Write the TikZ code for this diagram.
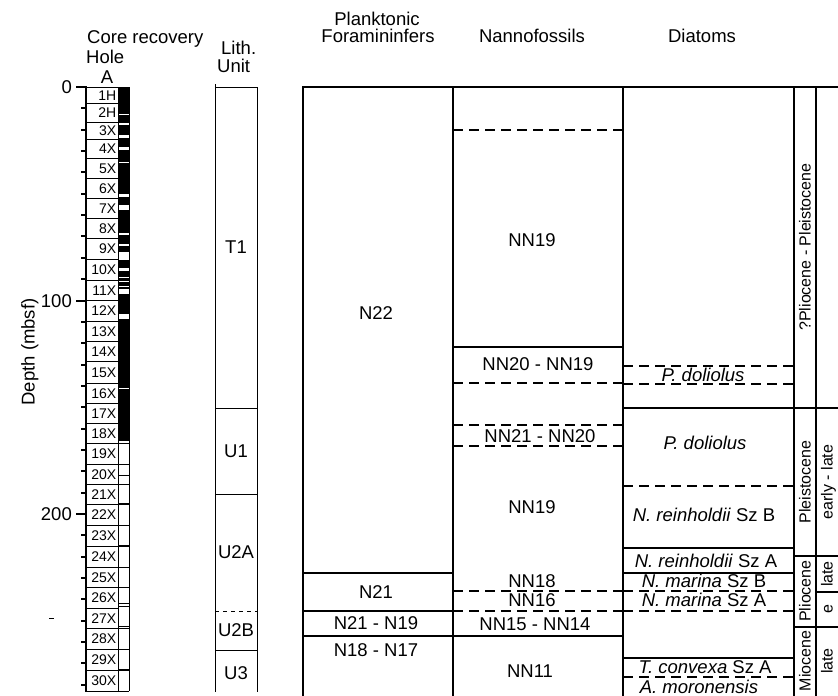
\documentclass[tikz,border=0pt]{standalone}
\usepackage{fontspec}
\setmainfont{Liberation Sans}
\begin{document}
\begin{tikzpicture}[x=1pt,y=-1pt,
  tbl/.style={line width=2.8pt},
  dsh/.style={line width=2.6pt, dash pattern=on 10pt off 6pt},
  cline/.style={line width=1pt},
  lbl/.style={font=\fontsize{18.5}{21}\selectfont, inner sep=0pt, text height=13.2pt, text depth=0pt},
  core/.style={font=\fontsize{14}{16}\selectfont, inner sep=0pt, anchor=east, text height=10pt, text depth=0pt},
  ep/.style={font=\fontsize{16}{18}\selectfont, rotate=90, inner sep=0pt, text height=11.4pt, text depth=0pt}]
\useasboundingbox (0,0) rectangle (838,696);
\fill[white] (0,0) rectangle (838,696);

% ---------- headers ----------
\node[lbl, anchor=west] (hcore) at (87,37) {Core recovery};
\node[lbl, anchor=west] (hhole) at (86,57) {Hole};
\node[lbl] (hA) at (107,77) {A};
\node[lbl, anchor=west] (hlith) at (221,48) {Lith.};
\node[lbl, anchor=west] (hunit) at (217,66) {Unit};
\node[lbl] (hpf1) at (377,19) {Planktonic};
\node[lbl] (hpf2) at (378,36) {Foramininfers};
\node[lbl] (hnan) at (532,36) {Nannofossils};
\node[lbl] (hdia) at (702,36) {Diatoms};

% ---------- depth axis ----------
\node[lbl, rotate=90] (dlab) at (28,352) {Depth (mbsf)};
\draw[line width=2pt] (86,86) -- (86,692);
\foreach \d in {10,20,...,280} \draw[line width=2pt] (81,{87+2.135*\d}) -- (86,{87+2.135*\d});
\foreach \d in {0,100,200} \draw[line width=2pt] (76,{87+2.135*\d}) -- (86,{87+2.135*\d});
\node[lbl, anchor=east] (d0) at (72,87) {0};
\node[lbl, anchor=east] (d100) at (72,300.5) {100};
\node[lbl, anchor=east] (d200) at (72,514) {200};
\draw[cline] (49,618) -- (54,618);

% ---------- core recovery ----------
\fill (118,87) rectangle (129,441);
\foreach \a/\b in {113.5/115,123/125,135/138,147/150,161.5/162.5,194/197,205/209.5,233/235,244/245.5,252/260,267.5/271,276.5/278,280.5/282,285.5/287,289/294,313.5/318.5,388/389}
  \fill[white] (118,\a) rectangle (129,\b);
\draw[cline] (86,87) -- (129,87);
\draw[cline] (118,87) -- (118,691);
\draw[cline] (129,87) -- (129,691);
\foreach \y in {443,464,475,484,525,567,587,603,606,626,628,649,691}
  \draw[cline] (118,\y) -- (129,\y);
\foreach \y in {504,546,670}
  \draw[line width=2pt] (118,\y) -- (129,\y);
\foreach \lab/\ya/\yb in {1H/87/103,2H/103/122,3X/122/139,4X/139/158,5X/158/178,6X/178/198,7X/198/218,8X/218/238,9X/238/259,10X/259/280,11X/280/300,12X/300/321,13X/321/341,14X/341/361,15X/361/383,16X/383/403,17X/403/423,18X/423/443,19X/443/464,20X/464/484,21X/484/504,22X/504/525,23X/525/546,24X/546/567,25X/567/587,26X/587/608,27X/608/628,28X/628/649,29X/649/670,30X/670/691}
{
  \draw[cline] (86,\yb) -- (118,\yb);
  \node[core] (c\lab) at (116.5,{(\ya+\yb)/2}) {\lab};
}

% ---------- lithologic units ----------
\draw[cline] (215,84) -- (215,692);
\draw[cline] (257,87) -- (257,692);
\draw[cline] (215,87) -- (257,87);
\foreach \y in {408,494,650} \draw[cline] (215,\y) -- (257,\y);
\draw[cline, dash pattern=on 4pt off 4pt] (215,611) -- (257,611);
\node[lbl] (uT1) at (236,247) {T1};
\node[lbl] (uU1) at (236,451) {U1};
\node[lbl] (uU2A) at (236,552) {U2A};
\node[lbl] (uU2B) at (236,630) {U2B};
\node[lbl] (uU3) at (236,673) {U3};

% ---------- biostratigraphy table ----------
\draw[tbl, line join=miter] (303,696) -- (303,87) -- (838,87);
\foreach \x in {453,623,794,816} \draw[tbl] (\x,87) -- (\x,696);
% forams
\foreach \y in {573,611,636} \draw[tbl] (303,\y) -- (453,\y);
\node[lbl] (fN22) at (376,313) {N22};
\node[lbl] (fN21) at (376,592) {N21};
\node[lbl] (fN2119) at (376,623) {N21 - N19};
\node[lbl] (fN1817) at (376,650) {N18 - N17};
% nannofossils
\foreach \y in {347,636} \draw[tbl] (453,\y) -- (623,\y);
\foreach \y in {130,383,425,446,591,611} \draw[dsh] (453,\y) -- (623,\y);
\node[lbl] (nNN19a) at (532,240) {NN19};
\node[lbl] (nNN2019) at (538,364) {NN20 - NN19};
\node[lbl] (nNN2120) at (540,436) {NN21 - NN20};
\node[lbl] (nNN19b) at (532,507) {NN19};
\node[lbl] (nNN18) at (532,581) {NN18};
\node[lbl] (nNN16) at (532,600) {NN16};
\node[lbl] (nNN1514) at (535,624) {NN15 - NN14};
\node[lbl] (nNN11) at (530,671) {NN11};
% diatoms
\draw[tbl] (623,408) -- (838,408);
\foreach \y in {548,573,658} \draw[tbl] (623,\y) -- (794,\y);
\foreach \y in {366,384,486,591,611,677} \draw[dsh] (623,\y) -- (794,\y);
\node[lbl] (dPd1) at (703,375) {\textit{P. doliolus}};
\node[lbl] (dPd2) at (705,443) {\textit{P. doliolus}};
\node[lbl] (dNrB) at (704,515) {\textit{N. reinholdii} Sz B};
\node[lbl] (dNrA) at (706,561) {\textit{N. reinholdii} Sz A};
\node[lbl] (dNmB) at (704,581) {\textit{N. marina} Sz B};
\node[lbl] (dNmA) at (704,600) {\textit{N. marina} Sz A};
\node[lbl] (dTc) at (705,667) {\textit{T. convexa} Sz A};
\node[lbl] (dAm) at (699,687) {\textit{A. moronensis}};
% epochs
\draw[tbl] (794,556) -- (838,556);
\draw[tbl] (794,627) -- (838,627);
\draw[tbl] (816,592) -- (838,592);
\node[ep] (eQP) at (805,247) {?Pliocene - Pleistocene};
\node[ep] (ePle) at (805,482) {Pleistocene};
\node[ep] (eEL) at (827,482) {early - late};
\node[ep] (ePli) at (805,591) {Pliocene};
\node[ep] (eL1) at (827,574) {late};
\node[ep] (eE) at (827,609) {e};
\node[ep] (eMio) at (805,661) {Miocene};
\node[ep] (eL2) at (827,661) {late};
\end{tikzpicture}
\end{document}
